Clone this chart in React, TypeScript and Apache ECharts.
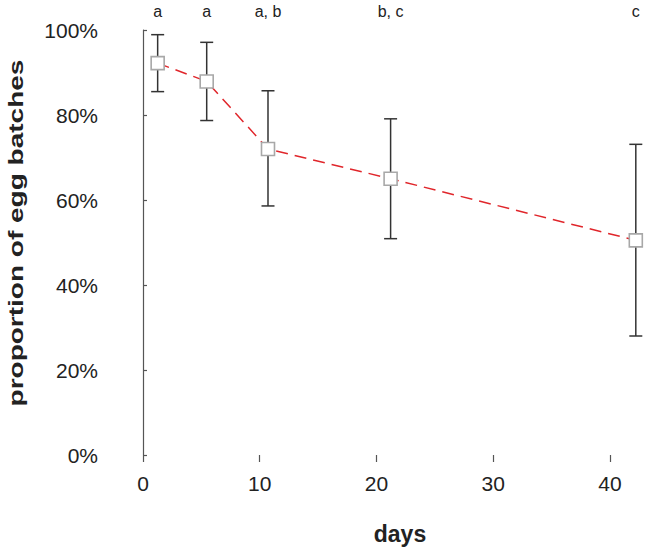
import React, { useEffect, useRef } from "react";
import * as echarts from "echarts";

const days = [1, 5, 10, 20, 40];
const proportion = [92.2, 87.9, 72.0, 65.0, 50.5];
const lower = [85.5, 78.7, 58.6, 50.9, 28.0];
const upper = [98.9, 97.1, 85.7, 79.1, 73.1];
const groups = ["a", "a", "a, b", "b, c", "c"];
const xTicks = [0, 10, 20, 30, 40];
const yTicks = [0, 20, 40, 60, 80, 100];
const xTitle = "days";
const yTitle = "proportion of egg batches";

const FONT = "'Liberation Sans', Arial, Helvetica, sans-serif";

export default function App() {
  const ref = useRef<HTMLDivElement>(null);
  useEffect(() => {
    if (!ref.current) return;
    const chart = echarts.init(ref.current, undefined, { renderer: "svg" });
    const option = {
      animation: false,
      backgroundColor: "#fff",
      grid: { left: 105, top: 30, right: 5, bottom: 96, containLabel: false },
      xAxis: [
        {
          type: "value",
          min: -3.255,
          max: 43.0,
          offset: 3,
          axisLine: { show: false },
          splitLine: { show: false },
          axisTick: {
            show: true,
            customValues: xTicks,
            length: 7,
            lineStyle: { color: "#555", width: 1.2 },
          },
          axisLabel: {
            customValues: xTicks,
            fontSize: 21,
            color: "#222",
            fontFamily: FONT,
            margin: 15,
          },
        },
        {
          type: "value",
          min: -3.295,
          max: 40.75,
          show: false,
          axisLine: { show: false },
          axisTick: { show: false },
          axisLabel: { show: false },
          splitLine: { show: false },
        },
      ],
      yAxis: {
        type: "value",
        min: yTicks[0],
        max: yTicks[yTicks.length - 1],
        interval: 20,
        axisLine: { show: true, lineStyle: { color: "#555", width: 1.2 } },
        axisTick: { show: true, inside: true, length: 4, lineStyle: { color: "#555", width: 1.2 } },
        splitLine: { show: false },
        axisLabel: {
          formatter: "{value}%",
          fontSize: 21,
          color: "#222",
          fontFamily: FONT,
          margin: 7,
        },
      },
      graphic: [
        {
          type: "text",
          x: 400,
          y: 534,
          style: {
            text: xTitle,
            font: `bold 23px ${FONT}`,
            fill: "#222",
            align: "center",
            verticalAlign: "middle",
          },
        },
        {
          type: "text",
          x: 16,
          y: 233,
          rotation: Math.PI / 2,
          scaleX: 1.4,
          style: {
            text: yTitle,
            font: `bold 20px ${FONT}`,
            fill: "#222",
            align: "center",
            verticalAlign: "middle",
          },
        },
      ],
      series: [
        {
          type: "custom",
          xAxisIndex: 1,
          z: 1,
          renderItem: (params: any, api: any) => {
            const x = api.value(0);
            const top = api.coord([x, api.value(2)]);
            const bot = api.coord([x, api.value(1)]);
            const hw = 6.5;
            const st = { stroke: "#333", lineWidth: 1.5 };
            return {
              type: "group",
              children: [
                { type: "line", shape: { x1: top[0], y1: top[1], x2: bot[0], y2: bot[1] }, style: st },
                { type: "line", shape: { x1: top[0] - hw, y1: top[1], x2: top[0] + hw, y2: top[1] }, style: st },
                { type: "line", shape: { x1: bot[0] - hw, y1: bot[1], x2: bot[0] + hw, y2: bot[1] }, style: st },
              ],
            };
          },
          data: days.map((d, i) => [d, lower[i], upper[i]]),
        },
        {
          type: "line",
          xAxisIndex: 1,
          z: 3,
          data: days.map((d, i) => [d, proportion[i]]),
          symbol: "rect",
          symbolSize: 13,
          lineStyle: { color: "#e0262b", width: 1.5, type: [12, 7] },
          itemStyle: { color: "#fff", borderColor: "#a8a8a8", borderWidth: 1.6 },
        },
        {
          type: "custom",
          xAxisIndex: 1,
          z: 4,
          renderItem: (params: any, api: any) => {
            const p = api.coord([api.value(0), 100]);
            return {
              type: "text",
              x: p[0],
              y: params.coordSys.y - 18.5,
              style: {
                text: groups[params.dataIndex],
                font: `16px ${FONT}`,
                fill: "#222",
                align: "center",
                verticalAlign: "middle",
              },
            };
          },
          data: days.map((d) => [d]),
        },
      ],
    };
    chart.setOption(option as any);
    return () => chart.dispose();
  }, []);
  return (
    <div
      ref={ref}
      style={{ position: "fixed", left: 0, top: 0, width: 650, height: 551 }}
    />
  );
}
